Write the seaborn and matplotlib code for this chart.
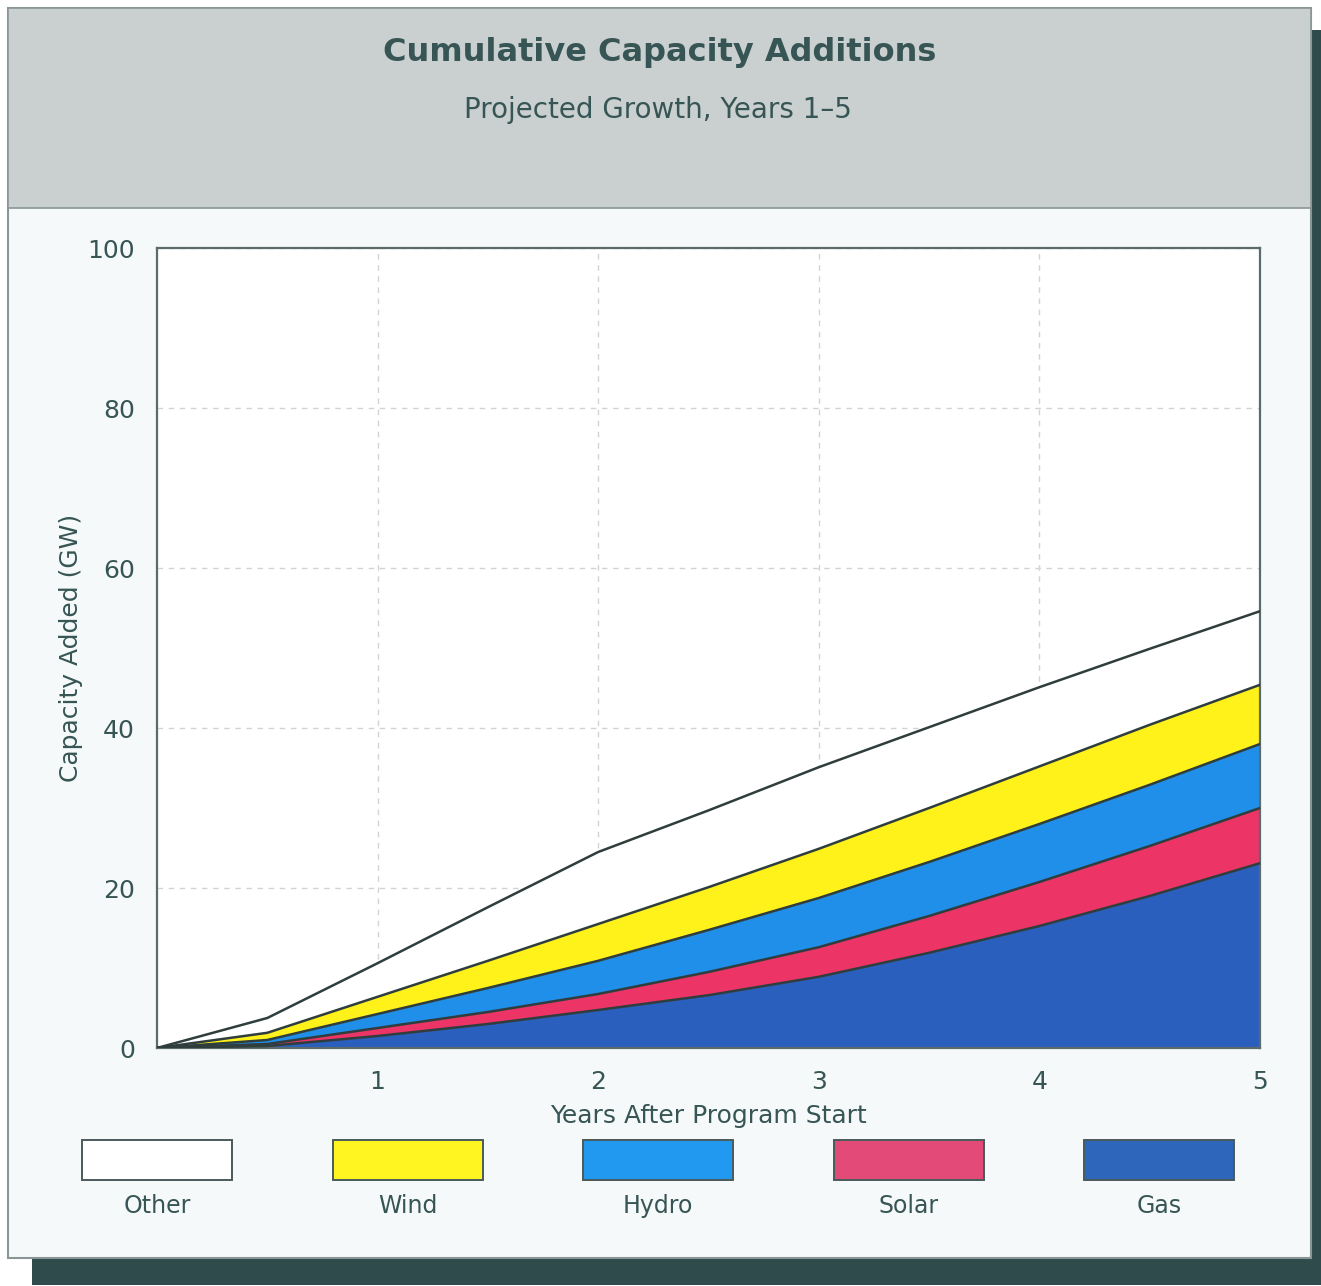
import numpy as np
import pandas as pd
import matplotlib
matplotlib.use("Agg")
import matplotlib.pyplot as plt
from matplotlib.patches import Rectangle
import seaborn as sns

# ---------------- data ----------------
years = [0, 0.5, 1, 1.5, 2, 2.5, 3, 3.5, 4, 4.5, 5]
series_names = ["Other", "Wind", "Hydro", "Solar", "Gas"]          # legend order (top of stack first)
other = [0, 1.85, 4.2, 6.7, 9.0, 9.6, 10.2, 10.1, 9.9, 9.5, 9.2]
wind = [0, 0.9, 2.15, 3.4, 4.6, 5.35, 6.15, 6.75, 7.2, 7.5, 7.4]
hydro = [0, 0.5, 1.75, 3.0, 4.15, 5.25, 6.15, 6.75, 7.25, 7.65, 8.0]
solar = [0, 0.25, 1.0, 1.5, 2.0, 2.9, 3.7, 4.6, 5.5, 6.25, 6.9]
gas = [0, 0.25, 1.5, 3.0, 4.75, 6.6, 8.9, 11.9, 15.25, 19.0, 23.1]
series_colors = ["#ffffff", "#fff21a", "#1f8fea", "#ec3466", "#2a5fbd"]
legend_colors = ["#ffffff", "#fff521", "#2299f0", "#e44a78", "#2e66bb"]
x_ticks = [1, 2, 3, 4, 5]
y_ticks = [0, 20, 40, 60, 80, 100]

title = "Cumulative Capacity Additions"
subtitle = "Projected Growth, Years 1–5"
x_label = "Years After Program Start"
y_label = "Capacity Added (GW)"

W, H = 1321, 1286
TXT = "#375555"

sns.set_theme(style="white")
plt.rcParams["font.family"] = ["DejaVu Sans"]

fig = plt.figure(figsize=(W / 100, H / 100), dpi=100)
fig.patch.set_facecolor("white")

def fx(px):
    return px / W

def fy(py):
    return 1 - py / H

# shadow
fig.patches.append(Rectangle((fx(32), fy(1285)), fx(1321) - fx(32), fy(1258) - fy(1285),
                             transform=fig.transFigure, facecolor="#2f4b4b", edgecolor="none", zorder=-3))
fig.patches.append(Rectangle((fx(1311), fy(1285)), fx(1321) - fx(1311), fy(30) - fy(1285),
                             transform=fig.transFigure, facecolor="#2f4b4b", edgecolor="none", zorder=-3))
# frame
fig.patches.append(Rectangle((fx(8), fy(1258)), fx(1311) - fx(8), fy(8) - fy(1258),
                             transform=fig.transFigure, facecolor="#f6f9f9", edgecolor="#8a9696",
                             linewidth=1.5, zorder=-2))
# header band
fig.patches.append(Rectangle((fx(8), fy(208)), fx(1311) - fx(8), fy(8) - fy(208),
                             transform=fig.transFigure, facecolor="#cacfcf", edgecolor="#8a9696",
                             linewidth=1.2, zorder=-1))

fig.text(fx(660), fy(53), title, ha="center", va="center", fontsize=23, fontweight="bold", color=TXT)
fig.text(fx(658), fy(110), subtitle, ha="center", va="center", fontsize=20, color=TXT)

ax = fig.add_axes([fx(157), fy(1048), fx(1260) - fx(157), fy(248) - fy(1048)])
ax.set_zorder(1)
ax.set_facecolor("white")

stack_bottom_first = [gas, solar, hydro, wind, other]
colors_bottom_first = series_colors[::-1]
cum = np.cumsum(np.array(stack_bottom_first, dtype=float), axis=0)
lower = np.zeros(len(years))
for upper, col in zip(cum, colors_bottom_first):
    ax.fill_between(years, lower, upper, color=col, linewidth=0, zorder=2)
    lower = upper

df = pd.DataFrame({"year": np.tile(years, len(cum)),
                   "top": cum.ravel(),
                   "layer": np.repeat(np.arange(len(cum)), len(years))})
sns.lineplot(data=df, x="year", y="top", units="layer", estimator=None,
             color="#2f3d3d", linewidth=1.8, ax=ax, zorder=3, legend=False)

ax.set_xlim(0, 5)
ax.set_ylim(0, 100)
ax.set_xticks(x_ticks)
ax.set_yticks(y_ticks)
ax.set_xticklabels([str(v) for v in x_ticks])
ax.set_yticklabels([str(v) for v in y_ticks])
ax.tick_params(axis="both", length=0, labelsize=18, labelcolor=TXT)
ax.tick_params(axis="x", pad=16)
ax.tick_params(axis="y", pad=16)
ax.grid(True, color="#d0d4d4", linestyle=(0, (4, 4)), linewidth=1.0, zorder=1)
ax.set_axisbelow(True)
for s in ax.spines.values():
    s.set_color("#5b6b6b")
    s.set_linewidth(1.6)
ax.set_xlabel(x_label, fontsize=18, color=TXT, labelpad=7)
ax.set_ylabel(y_label, fontsize=18, color=TXT, labelpad=3)

# legend: swatches with labels underneath
centers = [157, 408, 658, 909, 1159]
for c, name, col in zip(centers, series_names, legend_colors):
    fig.patches.append(Rectangle((fx(c - 75), fy(1180)), fx(150), fy(1140) - fy(1180),
                                 transform=fig.transFigure, facecolor=col, edgecolor="#4a5a5a",
                                 linewidth=1.4, zorder=2))
    fig.text(fx(c), fy(1206), name, ha="center", va="center", fontsize=17, color=TXT)

fig.savefig("out.png", dpi=100, facecolor=fig.get_facecolor())
